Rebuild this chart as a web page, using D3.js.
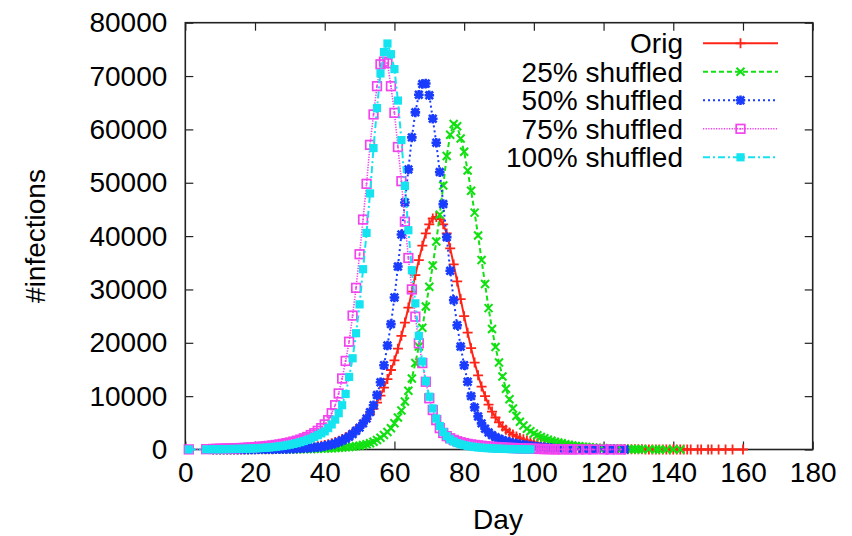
<!DOCTYPE html>
<html>
<head>
<meta charset="utf-8">
<script src="https://cdn.jsdelivr.net/npm/d3@7"></script>
<style>
  body { margin: 0; background: #fff; }
  text { font-family: "Liberation Sans", Arial, Helvetica, sans-serif; fill: #000; }
</style>
</head>
<body>
<svg id="chart" width="852" height="536"></svg>
<script>
// ---- data -------------------------------------------------------------
const xTicks = [0, 20, 40, 60, 80, 100, 120, 140, 160, 180];
const yTicks = [0, 10000, 20000, 30000, 40000, 50000, 60000, 70000, 80000];
const seriesNames = ["Orig", "25% shuffled", "50% shuffled", "75% shuffled", "100% shuffled"];

// daily infection counts, first value is day 8
const firstDay = 8;

const origValues = [
  3, 4, 5, 6, 7, 8, 10, 12, 14, 17, 20, 24, 28, 33, 39, 46, 54, 63, 74, 86,
  100, 120, 145, 175, 210, 250, 300, 360, 430, 510, 610, 720, 850, 1000, 1180, 1400, 1650, 1950, 2300, 2700,
  3200, 3700, 4300, 5000, 5700, 6600, 7600, 8800, 10100, 11600, 13200, 14900, 16700, 18900, 21300, 23800, 26600, 29600, 32700, 35500,
  38200, 40500, 42200, 43300, 43600, 43200, 42200, 40500, 37700, 34700, 31500, 28200, 25000, 21900, 19000, 16300, 13900, 11800, 10000, 8400,
  7100, 6000, 5100, 4300, 3700, 3200, 2800, 2450, 2150, 1900, 1700, 1500, 1330, 1180, 1050, 930, 820, 720, 640, 560,
  500, 440, 390, 340, 300, 260, 230, 200, 175, 155, 135, 120, 105, 92, 80, 70, 62, 55, 48, 42,
  37, 32, 28, 25, 22, 19, 17, 15, 13, 11, 10, 9, 8, 7, 6, 5, 5, 4
];
const origTailDays = [147, 148, 150, 151, 153, 155, 157, 160];
const origTailValues = [3, 3, 2, 2, 2, 1, 1, 1];

const shuf25Values = [
  2, 2, 3, 3, 4, 4, 5, 6, 7, 8, 9, 10, 12, 14, 16, 18, 21, 24, 28, 32,
  37, 43, 50, 58, 67, 77, 88, 100, 115, 130, 150, 170, 195, 220, 250, 285, 320, 360, 410, 470,
  540, 620, 720, 840, 990, 1180, 1450, 1800, 2200, 2700, 3300, 4000, 4900, 6000, 7300, 9000, 11000, 13300, 16200, 19300,
  22800, 26800, 30500, 34500, 39000, 44000, 49500, 55000, 59000, 61000, 60600, 58300, 55800, 52300, 48500, 44400, 40100, 35500, 31000, 26500,
  22600, 19200, 16300, 13700, 11400, 9400, 7700, 6300, 5200, 4500, 3900, 3400, 3000, 2650, 2350, 2100, 1850, 1650, 1450, 1300,
  1150, 1000, 880, 770, 680, 600, 520, 460, 400, 350, 300, 260, 220, 190, 160, 140, 120, 100, 85, 70,
  60, 50, 40, 35
];
const shuf25TailDays = [133, 135, 136, 138, 140, 142];
const shuf25TailValues = [25, 20, 15, 10, 10, 5];

const shuf50Values = [
  5, 6, 7, 8, 9, 10, 12, 14, 16, 19, 22, 26, 30, 35, 41, 48, 56, 65, 76, 89,
  104, 122, 143, 167, 195, 228, 265, 300, 340, 390, 440, 520, 650, 800, 950, 1150, 1400, 1700, 2000, 2400,
  2900, 3500, 4100, 4900, 5800, 7000, 8300, 10200, 12600, 15800, 19500, 23500, 28500, 34300, 40300, 46300, 52500, 58500, 63200, 66500,
  68500, 68600, 66400, 62000, 57500, 52000, 46000, 39800, 33500, 28000, 23300, 19300, 15800, 12700, 10000, 7900, 6200, 4900, 3900, 3200,
  2700, 2300, 2000, 1750, 1550, 1380, 1230, 1100, 980, 870, 770, 680, 600, 520, 450, 390, 330, 280
];
const shuf50TailDays = [107, 109, 111, 114, 116, 118, 121, 123, 126];
const shuf50TailValues = [200, 150, 110, 70, 50, 40, 25, 15, 10];

const shuf75Values = [
  110, 125, 140, 160, 180, 200, 220, 250, 280, 310, 350, 390, 440, 490, 550, 610, 680, 760, 850, 950,
  1060, 1180, 1320, 1480, 1650, 1850, 2100, 2350, 2700, 3050, 3500, 4000, 4700, 5500, 6800, 8300, 10500, 13300, 16600, 20200,
  25100, 30300, 36600, 43100, 49800, 57100, 62800, 68100, 72200, 72700, 72400, 68100, 63100, 56700, 50300, 42700, 35900, 30000, 24900, 19900,
  16200, 12700, 9600, 7400, 5500, 4000, 3100, 2500, 2100, 1800, 1550, 1350, 1200, 1050, 950, 850, 770, 700, 630, 570,
  510, 460, 420, 380, 340, 310, 280, 250, 225, 200, 180, 160, 140, 120, 100, 85, 70, 60, 50, 40,
  30
];
const shuf75HeadDays = [1, 6];
const shuf75HeadValues = [20, 60];
const shuf75TailDays = [110, 111, 113, 115, 117, 120, 122, 125];
const shuf75TailValues = [20, 20, 15, 15, 10, 10, 5, 5];

const shuf100Values = [
  50, 55, 60, 70, 80, 90, 100, 115, 130, 150, 170, 195, 220, 250, 290, 330, 380, 440, 510, 590,
  680, 790, 910, 1050, 1200, 1380, 1580, 1800, 2050, 2350, 2680, 3030, 3400, 4000, 4700, 5600, 6800, 8300, 10400, 13600,
  17100, 21800, 27200, 33800, 40600, 48000, 56500, 64000, 70500, 74500, 76100, 74100, 71300, 65400, 58000, 49400, 41100, 33600, 27400, 21300,
  16500, 12800, 9900, 7700, 5800, 4400, 3300, 2500, 1900, 1500, 1200, 980, 800, 660, 550, 460, 390, 330, 280, 240,
  200, 170, 140, 120, 100, 85, 70, 60, 50, 40, 30, 25
];
const shuf100HeadDays = [1, 6];
const shuf100HeadValues = [10, 30];

// ---- assemble point lists ---------------------------------------------
const pts = (days, values) => days.map((d, i) => ({ day: d, value: values[i] }));
const daily = values => values.map((v, i) => ({ day: firstDay + i, value: v }));

const seriesData = [
  daily(origValues).concat(pts(origTailDays, origTailValues)),
  daily(shuf25Values).concat(pts(shuf25TailDays, shuf25TailValues)),
  daily(shuf50Values).concat(pts(shuf50TailDays, shuf50TailValues)),
  pts(shuf75HeadDays, shuf75HeadValues).concat(daily(shuf75Values), pts(shuf75TailDays, shuf75TailValues)),
  pts(shuf100HeadDays, shuf100HeadValues).concat(daily(shuf100Values))
];

// ---- styling ------------------------------------------------------------
const styles = [
  { color: "#ff2418", dash: null,        width: 2,   marker: "plus" },
  { color: "#12e012", dash: "5,3",       width: 2,   marker: "cross" },
  { color: "#1a3cff", dash: "2,3",       width: 2,   marker: "star" },
  { color: "#f244ee", dash: "1.3,1.3",   width: 1.6, marker: "openSquare" },
  { color: "#14e4ef", dash: "7,3,2,3",   width: 2,   marker: "filledSquare" }
];

// ---- layout -----------------------------------------------------------
const plot = { left: 185.3, right: 812.7, top: 22.7, bottom: 449.5 };
const svg = d3.select("#chart");

const x = d3.scaleLinear().domain([0, 180]).range([plot.left, plot.right]);
const y = d3.scaleLinear().domain([0, 80000]).range([plot.bottom, plot.top]);

const FONT = 28;

// axes with inward ticks on all four sides
const axisG = svg.append("g");
axisG.append("g")
  .attr("transform", `translate(0,${plot.bottom})`)
  .call(d3.axisBottom(x).tickValues(xTicks).tickFormat(d3.format("d")).tickSize(-8).tickPadding(13));
axisG.append("g")
  .attr("transform", `translate(${plot.left},0)`)
  .call(d3.axisLeft(y).tickValues(yTicks).tickFormat(d3.format("d")).tickSize(-8).tickPadding(18));
axisG.append("g")
  .attr("transform", `translate(0,${plot.top})`)
  .call(d3.axisTop(x).tickValues(xTicks).tickFormat("").tickSize(-8));
axisG.append("g")
  .attr("transform", `translate(${plot.right},0)`)
  .call(d3.axisRight(y).tickValues(yTicks).tickFormat("").tickSize(-8));

axisG.selectAll(".domain").remove();
axisG.selectAll(".tick line").attr("stroke", "#222").attr("stroke-width", 1.2);
axisG.selectAll(".tick text")
  .attr("font-size", FONT)
  .attr("font-family", '"Liberation Sans", Arial, sans-serif')
  .attr("fill", "#000");

// frame
svg.append("rect")
  .attr("x", plot.left).attr("y", plot.top)
  .attr("width", plot.right - plot.left).attr("height", plot.bottom - plot.top)
  .attr("fill", "none").attr("stroke", "#222").attr("stroke-width", 1.6);

// axis titles
svg.append("text")
  .attr("x", (plot.left + plot.right) / 2 - 1).attr("y", 529)
  .attr("text-anchor", "middle").attr("font-size", FONT)
  .text("Day");
svg.append("text")
  .attr("transform", `translate(45,236) rotate(-90)`)
  .attr("text-anchor", "middle").attr("font-size", FONT)
  .text("#infections");

// ---- markers ------------------------------------------------------------
function drawMarker(g, kind, color) {
  if (kind === "plus") {
    g.append("path").attr("d", "M-5,0H5M0,-5V5")
      .attr("stroke", color).attr("stroke-width", 1.8).attr("fill", "none");
  } else if (kind === "cross") {
    g.append("path").attr("d", "M-4,-4L4,4M-4,4L4,-4")
      .attr("stroke", color).attr("stroke-width", 2.1).attr("fill", "none");
  } else if (kind === "star") {
    g.append("path").attr("d", "M-4.8,0H4.8M0,-4.8V4.8M-3.8,-3.8L3.8,3.8M-3.8,3.8L3.8,-3.8")
      .attr("stroke", color).attr("stroke-width", 2.6).attr("fill", "none");
  } else if (kind === "openSquare") {
    g.append("rect").attr("x", -4.3).attr("y", -4.3).attr("width", 8.6).attr("height", 8.6)
      .attr("stroke", color).attr("stroke-width", 1.7).attr("fill", "none");
    g.append("rect").attr("x", -0.9).attr("y", -0.9).attr("width", 1.8).attr("height", 1.8)
      .attr("fill", color);
  } else if (kind === "filledSquare") {
    g.append("rect").attr("x", -4.1).attr("y", -4.1).attr("width", 8.2).attr("height", 8.2)
      .attr("fill", color);
  }
}

// ---- series -------------------------------------------------------------
const line = d3.line().x(d => x(d.day)).y(d => y(d.value));

seriesData.forEach((data, i) => {
  const st = styles[i];
  const g = svg.append("g").attr("class", "series");
  g.append("path")
    .datum(data)
    .attr("d", line)
    .attr("fill", "none")
    .attr("stroke", st.color)
    .attr("stroke-width", st.width)
    .attr("stroke-dasharray", st.dash);
  g.selectAll("g.pt")
    .data(data)
    .enter().append("g")
    .attr("class", "pt")
    .attr("transform", d => `translate(${x(d.day)},${y(d.value)})`)
    .each(function () { drawMarker(d3.select(this), st.marker, st.color); });
});

// ---- legend -------------------------------------------------------------
const legend = svg.append("g");
seriesNames.forEach((name, i) => {
  const st = styles[i];
  const ry = 43.3 + i * 28.5;
  legend.append("text")
    .attr("x", 683).attr("y", ry).attr("dy", "0.35em")
    .attr("text-anchor", "end").attr("font-size", FONT)
    .text(name);
  legend.append("line")
    .attr("x1", 703).attr("x2", 778).attr("y1", ry).attr("y2", ry)
    .attr("stroke", st.color).attr("stroke-width", st.width)
    .attr("stroke-dasharray", st.dash);
  const m = legend.append("g").attr("transform", `translate(740.5,${ry})`);
  drawMarker(m, st.marker, st.color);
});
</script>
</body>
</html>
